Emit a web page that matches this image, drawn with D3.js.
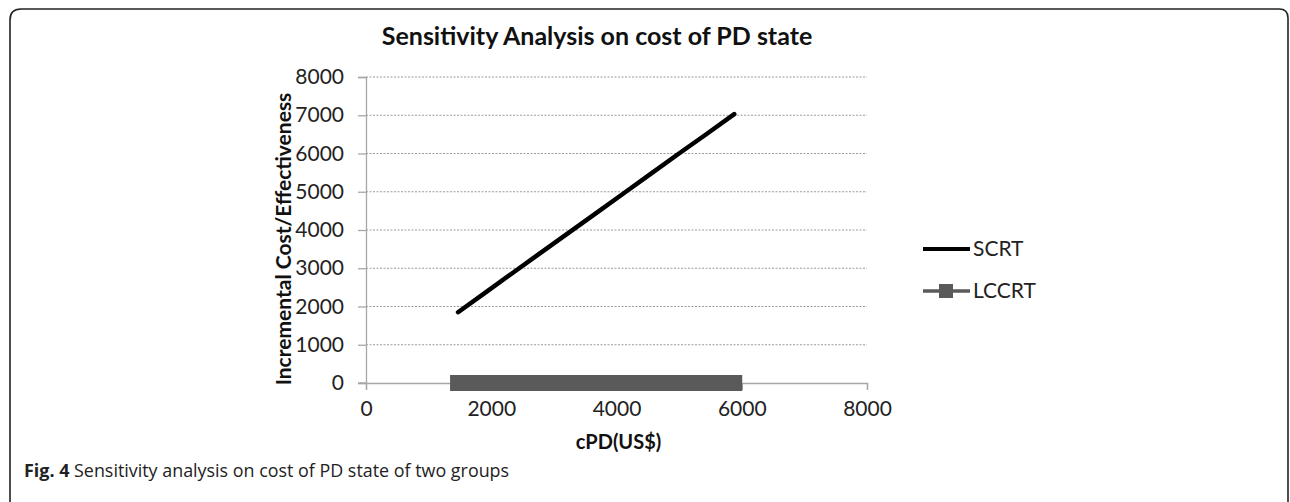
<!DOCTYPE html>
<html>
<head>
<meta charset="utf-8">
<script src="https://cdn.jsdelivr.net/npm/d3@7"></script>
<style>
  html, body { margin: 0; padding: 0; background: #fff; }
  svg { display: block; }
</style>
</head>
<body>
<svg id="chart" width="1290" height="502"></svg>
<script>
// ---- data ----
const titleText = "Sensitivity Analysis on cost of PD state";
const xLabel = "cPD(US$)";
const yLabel = "Incremental Cost/Effectiveness";
const xTicks = [0, 2000, 4000, 6000, 8000];
const yTicks = [0, 1000, 2000, 3000, 4000, 5000, 6000, 7000, 8000];
const seriesNames = ["SCRT", "LCCRT"];
const scrtX = [1470, 1911, 2352, 2793, 3234, 3675, 4116, 4557, 4998, 5439, 5880];
const scrtY = [1850, 2370, 2890, 3410, 3925, 4440, 4960, 5480, 6000, 6510, 7030];
const lccrtX = [1470, 1690, 1911, 2131, 2352, 2572, 2793, 3013, 3234, 3454, 3675,
                3895, 4116, 4336, 4557, 4777, 4998, 5218, 5439, 5659, 5880];
const lccrtY = [0, 0, 0, 0, 0, 0, 0, 0, 0, 0, 0, 0, 0, 0, 0, 0, 0, 0, 0, 0, 0];
const captionBold = "Fig. 4";
const captionText = " Sensitivity analysis on cost of PD state of two groups";

// ---- layout ----
const svg = d3.select("#chart");
const chartFont = "Lato, 'Open Sans', sans-serif";
const capFont = "'Open Sans', sans-serif";

// frame
svg.append("path")
  .attr("d", "M10,520 L10,20 Q10,9 21,9 L1279,9 Q1288,9 1288,18 L1288,520")
  .attr("fill", "none").attr("stroke", "#222").attr("stroke-width", 1.6);

const x = d3.scaleLinear().domain([0, 8000]).range([366, 867]);
const y = d3.scaleLinear().domain([0, 8000]).range([383, 77]);

// gridlines
svg.append("g").selectAll("line").data(yTicks.filter(d => d > 0)).join("line")
  .attr("x1", x(0)).attr("x2", x(8000))
  .attr("y1", d => y(d)).attr("y2", d => y(d))
  .attr("stroke", "#9a9a9a").attr("stroke-width", 1)
  .attr("stroke-dasharray", "2,1.5");

// y axis
const yAxis = d3.axisLeft(y).tickValues(yTicks).tickFormat(d3.format("d")).tickSize(8).tickPadding(14);
const gy = svg.append("g").attr("transform", `translate(${x(0)},0)`).call(yAxis);
gy.select(".domain").attr("stroke", "#a6a6a6").attr("stroke-width", 1.3);
gy.selectAll(".tick line").attr("stroke", "#a6a6a6").attr("stroke-width", 1.3);
gy.selectAll(".tick text").attr("font-family", chartFont).attr("font-size", 21).attr("fill", "#222");

// x axis
const xAxis = d3.axisBottom(x).tickValues(xTicks).tickFormat(d3.format("d")).tickSize(7).tickPadding(11);
const gx = svg.append("g").attr("transform", `translate(0,${y(0)})`).call(xAxis);
gx.select(".domain").attr("stroke", "#a6a6a6").attr("stroke-width", 1.3);
gx.selectAll(".tick line").attr("stroke", "#a6a6a6").attr("stroke-width", 1.3);
gx.selectAll(".tick text").attr("font-family", chartFont).attr("font-size", 21).attr("fill", "#222");
// extend x axis line left to match y-tick length
svg.append("line").attr("x1", x(0) - 8).attr("x2", x(0)).attr("y1", y(0)).attr("y2", y(0))
  .attr("stroke", "#a6a6a6").attr("stroke-width", 1.3);

// LCCRT series
const lccrt = lccrtX.map((d, i) => [d, lccrtY[i]]);
svg.append("path").datum(lccrt)
  .attr("d", d3.line().x(d => x(d[0])).y(d => y(d[1])))
  .attr("fill", "none").attr("stroke", "#5a5a5a").attr("stroke-width", 4);
const ms = 16;
svg.append("g").selectAll("rect").data(lccrt).join("rect")
  .attr("x", d => x(d[0]) - ms / 2).attr("y", d => y(d[1]) - ms / 2)
  .attr("width", ms).attr("height", ms).attr("fill", "#5a5a5a");

// SCRT series
const scrt = scrtX.map((d, i) => [d, scrtY[i]]);
svg.append("path").datum(scrt)
  .attr("d", d3.line().x(d => x(d[0])).y(d => y(d[1])))
  .attr("fill", "none").attr("stroke", "#000").attr("stroke-width", 4.5)
  .attr("stroke-linecap", "round");

// title
svg.append("text").attr("x", 597).attr("y", 45).attr("text-anchor", "middle")
  .attr("font-family", chartFont).attr("font-weight", "bold").attr("font-size", 25)
  .attr("fill", "#111").text(titleText);

// axis titles
svg.append("text").attr("x", x(4000) + 2).attr("y", 449).attr("text-anchor", "middle")
  .attr("font-family", chartFont).attr("font-weight", "bold").attr("font-size", 20)
  .attr("fill", "#111").text(xLabel);
svg.append("text").attr("transform", `translate(291,${y(4000) + 9}) rotate(-90)`)
  .attr("text-anchor", "middle")
  .attr("font-family", chartFont).attr("font-weight", "bold").attr("font-size", 21)
  .attr("fill", "#111").text(yLabel);

// legend
const leg = svg.append("g");
const legY = [249, 291];
leg.append("line").attr("x1", 923).attr("x2", 970).attr("y1", legY[0]).attr("y2", legY[0])
  .attr("stroke", "#000").attr("stroke-width", 4);
leg.append("line").attr("x1", 923).attr("x2", 970).attr("y1", legY[1]).attr("y2", legY[1])
  .attr("stroke", "#5a5a5a").attr("stroke-width", 3.5);
leg.append("rect").attr("x", 939).attr("y", legY[1] - 7).attr("width", 14).attr("height", 14)
  .attr("fill", "#5a5a5a");
leg.selectAll("text").data(seriesNames).join("text")
  .attr("x", 973).attr("y", (d, i) => legY[i]).attr("dy", "0.35em")
  .attr("font-family", chartFont).attr("font-size", 21).attr("fill", "#222")
  .text(d => d);

// caption
const cap = svg.append("text").attr("x", 24).attr("y", 477)
  .attr("font-family", capFont).attr("font-size", 17.9).attr("fill", "#222");
cap.append("tspan").attr("font-weight", "bold").text(captionBold);
cap.append("tspan").text(captionText);
</script>
</body>
</html>
